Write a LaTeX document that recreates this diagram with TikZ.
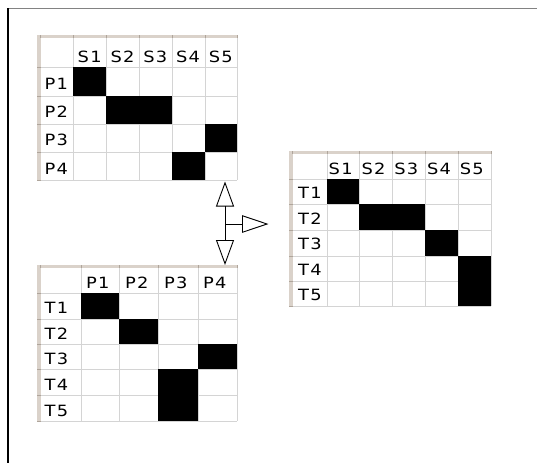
\documentclass[tikz,border=0pt]{standalone}
\usepackage{fontspec}
\usetikzlibrary{arrows.meta}
\newfontfamily\tabfont[FakeStretch=1.15,LetterSpace=8]{DejaVu Sans}
\definecolor{gridgray}{RGB}{212,212,212}
\definecolor{barbeige}{RGB}{218,210,202}
\definecolor{tickbrown}{RGB}{175,165,155}
\definecolor{framegray}{RGB}{130,130,130}
\begin{document}
\begin{tikzpicture}[x=1pt,y=-1pt,
  gridline/.style={draw=gridgray,line width=1pt},
  bar/.style={fill=barbeige},
  tick/.style={draw=tickbrown,line width=0.8pt},
  lbl/.style={font=\tabfont\fontsize{15.5}{16}\selectfont,anchor=base west,inner sep=0pt},
  hollow/.style={-{Triangle[open,length=25pt,width=18pt]},line width=0.9pt}]
\useasboundingbox (0,0) rectangle (537,463);
\draw[framegray,line width=1pt] (8,8) -- (537,8);
\draw[black,line width=1.2pt] (8,8) -- (8,463);

% ---------- table 1 (P x S) ----------
\foreach \x in {73,106,139,172,205,237} \draw[gridline] (\x,37) -- (\x,180);
\foreach \y in {67,96,124,152,180} \draw[gridline] (41,\y) -- (237,\y);
\fill (73,67) rectangle (106,96);
\fill (106,96) rectangle (172,124);
\fill (205,124) rectangle (237,152);
\fill (172,152) rectangle (205,180);
\fill[bar] (37,35) rectangle (237,38);
\fill[bar] (37,35) rectangle (41,180);
\foreach \x in {40,73,106,139,172,205,237} \draw[tick] (\x,35) -- (\x,38);
\foreach \y in {67,96,124,152,180} \draw[tick] (37,\y) -- (41,\y);
\foreach \t [count=\i] in {S1,S2,S3,S4,S5}
  \node[lbl] (a-h\i) at ({73+32.8*(\i-1)+4.5},62.5) {\t};
\foreach \t [count=\i] in {P1,P2,P3,P4}
  \node[lbl] (a-r\i) at (44.5,{67+28.25*\i-6}) {\t};

% ---------- table 2 (T x S) ----------
\foreach \x in {327,359,392,425,458,491} \draw[gridline] (\x,153) -- (\x,306);
\foreach \y in {179,204,230,256,281,306} \draw[gridline] (293,\y) -- (491,\y);
\fill (327,179) rectangle (359,204);
\fill (359,204) rectangle (425,230);
\fill (425,230) rectangle (458,256);
\fill (458,256) rectangle (491,306);
\fill[bar] (289,151) rectangle (491,154);
\fill[bar] (289,151) rectangle (293,306);
\foreach \x in {292,327,359,392,425,458,491} \draw[tick] (\x,151) -- (\x,154);
\foreach \y in {179,204,230,256,281,306} \draw[tick] (289,\y) -- (293,\y);
\foreach \t [count=\i] in {S1,S2,S3,S4,S5}
  \node[lbl] (b-h\i) at ({327+32.8*(\i-1)+1.5},174) {\t};
\foreach \t [count=\i] in {T1,T2,T3,T4,T5}
  \node[lbl] (b-r\i) at (298,{179+25.4*\i-5.5}) {\t};

% ---------- table 3 (T x P) ----------
\foreach \x in {81,119,158,198,237} \draw[gridline] (\x,267) -- (\x,421);
\foreach \y in {293,319,344,369,395,421} \draw[gridline] (41,\y) -- (237,\y);
\fill (81,293) rectangle (119,319);
\fill (119,319) rectangle (158,344);
\fill (198,344) rectangle (237,369);
\fill (158,369) rectangle (198,421);
\fill[bar] (37,265) rectangle (237,268);
\fill[bar] (37,265) rectangle (41,421);
\foreach \x in {40,81,119,158,198,237} \draw[tick] (\x,265) -- (\x,268);
\foreach \y in {293,319,344,369,395,421} \draw[tick] (37,\y) -- (41,\y);
\foreach \t [count=\i] in {P1,P2,P3,P4}
  \node[lbl] (c-h\i) at ({81+39*(\i-1)+5},288.5) {\t};
\foreach \t [count=\i] in {T1,T2,T3,T4,T5}
  \node[lbl] (c-r\i) at (44.5,{293+25.6*\i-5}) {\t};

% ---------- three-way hollow arrow ----------
\coordinate (hub) at (225,224);
\coordinate (upTip) at (225,181.5);
\coordinate (downTip) at (225,265);
\coordinate (rightTip) at (268.5,224);
\draw[hollow] (hub) -- (upTip);
\draw[hollow] (hub) -- (downTip);
\draw[-{Triangle[open,length=26.5pt,width=17.5pt]},line width=0.9pt] (hub) -- (rightTip);
\end{tikzpicture}
\end{document}
